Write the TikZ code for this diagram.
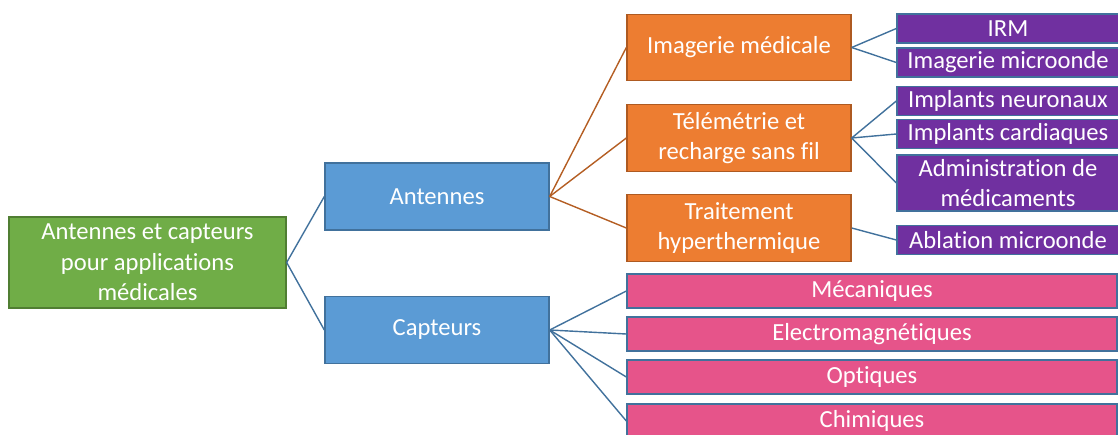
\documentclass[tikz,border=0pt]{standalone}
\usepackage{fontspec}
\setmainfont{Carlito}[Ligatures=NoCommon]
\usetikzlibrary{positioning}

\definecolor{vert}{HTML}{70AD47}
\definecolor{vertb}{HTML}{507E32}
\definecolor{bleu}{HTML}{5B9BD5}
\definecolor{bleub}{HTML}{41719C}
\definecolor{orange1}{HTML}{ED7D31}
\definecolor{orangeb}{HTML}{AE5A21}
\definecolor{violet1}{HTML}{7030A0}
\definecolor{rose}{HTML}{E6548A}

\begin{document}
\begin{tikzpicture}[
  x=0.02cm, y=-0.02cm,
  font=\fontsize{14}{17.3}\selectfont,
  base/.style={draw, line width=0.8pt, text=white, align=center, inner sep=1pt},
  racine/.style={base, fill=vert, draw=vertb, minimum width=5.54cm, minimum height=1.82cm},
  bloc/.style={base, fill=bleu, draw=bleub, minimum width=4.48cm, minimum height=1.34cm},
  appli/.style={base, fill=orange1, draw=orangeb, minimum width=4.48cm, minimum height=1.33cm},
  feuille/.style={base, fill=violet1, draw=bleub, minimum width=4.44cm, minimum height=0.58cm},
  capt/.style={base, fill=rose, draw=bleub, minimum width=9.8cm, minimum height=0.68cm},
  lb/.style={draw=bleub, line width=0.8pt},
  lo/.style={draw=orangeb!90!orange1, line width=0.8pt}
]
\useasboundingbox (0,0) rectangle (1118,435);
\clip (0,0) rectangle (1118,435);

\node[racine] (root) at (147.5,262.5) {Antennes et capteurs\\pour applications\\médicales};
\node[bloc] (ant) at (437,196.5) {Antennes};
\node[bloc] (cap) at (437,330) {Capteurs};

\node[appli] (img) at (739,47.5) {Imagerie médicale};
\node[appli] (tel) at (739,138) {Télémétrie et\\recharge sans fil};
\node[appli] (trt) at (739,228) {Traitement\\hyperthermique};

\node[feuille] (irm) at (1008,28.5) {IRM};
\node[feuille] (imm) at (1008,62.5) {Imagerie microonde};
\node[feuille] (neu) at (1008,101) {Implants neuronaux};
\node[feuille] (car) at (1008,134) {Implants cardiaques};
\node[feuille, minimum height=1.12cm] (adm) at (1008,183) {Administration de\\médicaments};
\node[feuille] (abl) at (1008,240) {Ablation microonde};

\node[capt] (mec) at (872,291) {Mécaniques};
\node[capt] (ele) at (872,334) {Electromagnétiques};
\node[capt] (opt) at (872,377) {Optiques};
\node[capt] (chi) at (872,421) {Chimiques};

\foreach \b in {ant, cap} \draw[lb] (root.east) -- (\b.west);
\foreach \b in {img, tel, trt} \draw[lo] (ant.east) -- (\b.west);
\foreach \b in {irm, imm} \draw[lb] (img.east) -- (\b.west);
\foreach \b in {neu, car, adm} \draw[lb] (tel.east) -- (\b.west);
\draw[lb] (trt.east) -- (abl.west);
\foreach \b in {mec, ele, opt, chi} \draw[lb] (cap.east) -- (\b.west);
\end{tikzpicture}
\end{document}
